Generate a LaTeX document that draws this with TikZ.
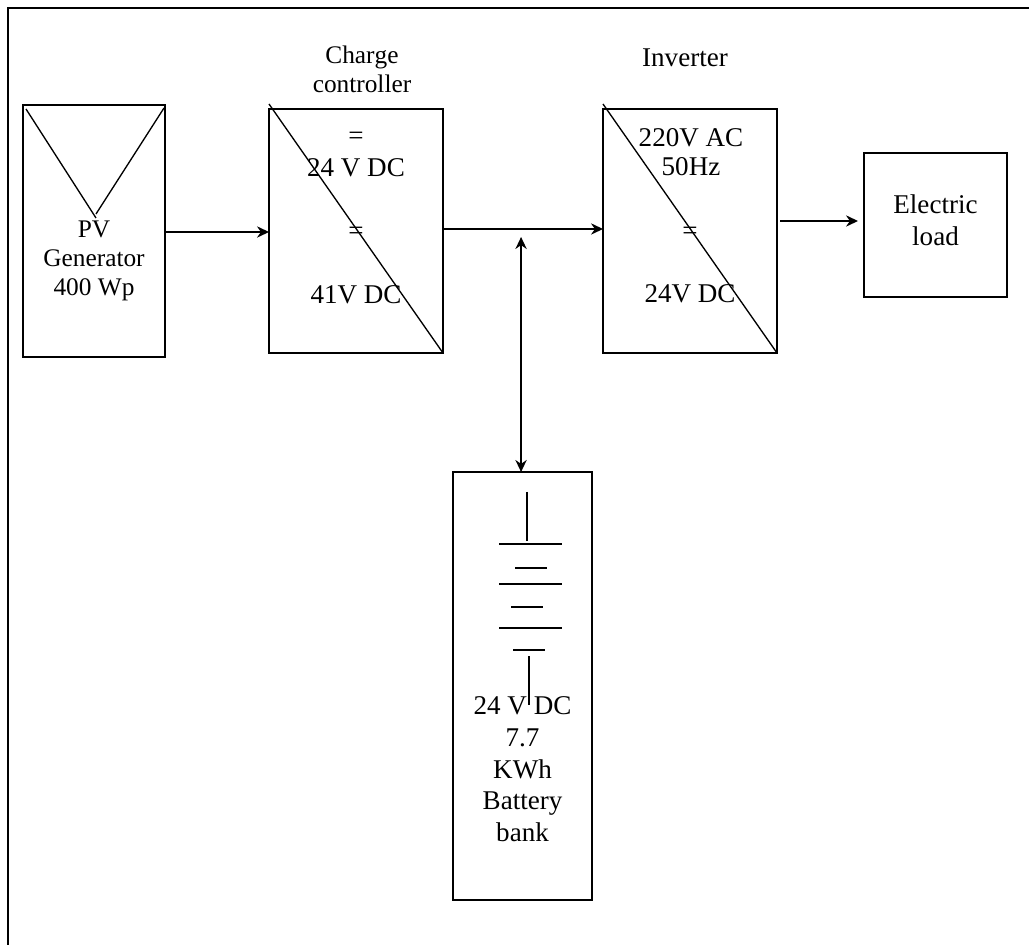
\documentclass[tikz,border=0pt]{standalone}
\usepackage{fontspec}
\setmainfont[Kerning=Off]{Liberation Serif}
\usetikzlibrary{arrows.meta,positioning}

\begin{document}
\begin{tikzpicture}[
    line width=1pt,
    >={Stealth[length=9pt,width=8.5pt]},
    box/.style={draw, inner sep=0pt, outer sep=0pt},
    conv/.style={box, minimum width=130.5pt, minimum height=183pt},
    lbl/.style={inner sep=0pt, outer sep=0pt, align=center,
                font=\fontsize{19}{21.75}\selectfont},
    lblbig/.style={lbl, font=\fontsize{20.3}{21.75}\selectfont},
    px/.style={x=0.75pt, y=-0.75pt},
    ]
\useasboundingbox (-70.5pt,173.25pt) rectangle (701.25pt,-535.5pt);

% ---- outer frame ----
\coordinate (framebl) at (-64.5pt,-535.5pt);
\coordinate (frametl) at (-64.5pt,167.25pt);
\coordinate (frametr) at (701.25pt,167.25pt);
\draw (framebl) -- (frametl) -- (frametr);

% ---- blocks ----
\node[box, minimum width=106.5pt, minimum height=189pt] (pv) at (0,0) {};
\node[conv, right=78pt of pv] (charge) {};
\node[conv, right=120pt of charge] (inverter) {};
\node[box, minimum width=107.25pt, minimum height=108pt, right=65.25pt of inverter, yshift=4.5pt] (load) {};
\node[box, minimum width=104.25pt, minimum height=321pt, below=89.25pt of charge, xshift=124.9pt] (battery) {};

% ---- block texts ----
\node[lbl, below=87pt of pv.north] (pvtext) {PV\\Generator\\400 Wp};
\node[lbl, above=12pt of charge.north, xshift=4.5pt] (chargetitle) {Charge\\controller};
\node[lblbig, below=17.5pt of charge.north] (chargeeqa) {=};
\node[lblbig, below=37.5pt of charge.north] (chargein) {24 V DC};
\node[lblbig, yshift=-1.5pt] (chargeeqb) at (charge.center) {=};
\node[lblbig, above=36.75pt of charge.south] (chargeout) {41V DC};
\node[lblbig, above=31.5pt of inverter.north, xshift=-3.75pt] (invertertitle) {Inverter};
\node[lblbig, below=15pt of inverter.north, xshift=0.75pt] (inverterac) {220V AC\\50Hz};
\node[lblbig, yshift=-1.5pt] (invertereq) at (inverter.center) {=};
\node[lblbig, above=37.5pt of inverter.south] (inverterdc) {24V DC};
\node[lblbig, below=31.5pt of load.north, font=\fontsize{20.3}{24}\selectfont] (loadtext) {Electric\\load};
\node[lblbig, below=168.75pt of battery.north, font=\fontsize{20.3}{23.7}\selectfont] (batterytext) {24 V DC\\7.7\\KWh\\Battery\\bank};

% ---- symbols ----
\begin{scope}[shift={(pv.north west)}, px]
  \draw (3,4) -- (73,113);
  \draw (73,109) -- (141,3);
\end{scope}
\begin{scope}[shift={(charge.north west)}, px]
  \draw (0,-5) -- (174,244);
\end{scope}
\begin{scope}[shift={(inverter.north west)}, px]
  \draw (0,-5) -- (174,244);
\end{scope}
% battery plates
\begin{scope}[shift={(battery.north west)}, px]
  \draw (74,20) -- (74,69);
  \foreach \y in {72,112,156}
    \draw (46,\y) -- (109,\y);
  \foreach \a/\y in {62/96,58/135,60/178}
    \draw (\a,\y) -- ++(32,0);
  \draw (76,184) -- (76,233);
\end{scope}

% ---- edges ----
\coordinate[xshift=-1.1pt, yshift=-4.5pt] (busend) at (battery.north |- charge.east);
\draw[->] ([yshift=-0.75pt]pv.east) -- ([yshift=-0.75pt]charge.west);
\draw[->] ([yshift=1.5pt]charge.east) -- ([yshift=1.5pt]inverter.west);
\draw[->] ([xshift=2.25pt,yshift=7.5pt]inverter.east) -- ([xshift=-4.5pt,yshift=3pt]load.west);
\draw[<->] (busend) -- (busend |- battery.north);
\end{tikzpicture}
\end{document}
